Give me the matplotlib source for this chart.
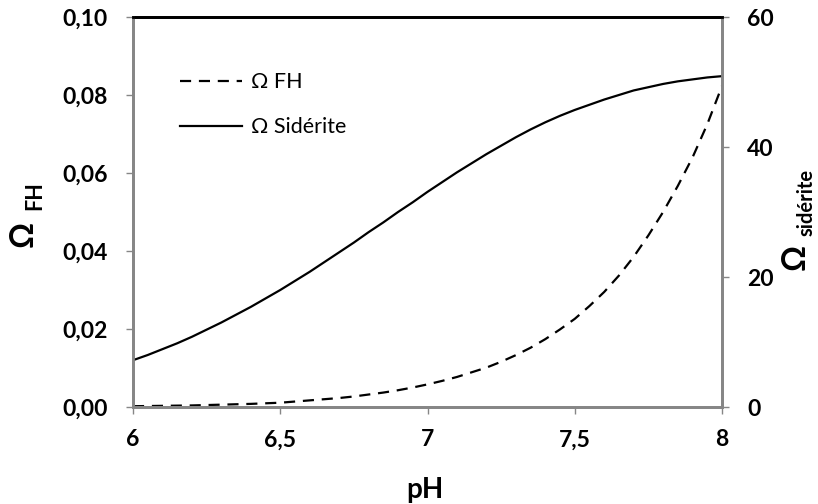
import matplotlib.pyplot as plt

plt.rcParams['font.family'] = ['Lato', 'DejaVu Sans']

# data
ph = [6.00, 6.05, 6.10, 6.15, 6.20, 6.25, 6.30, 6.35, 6.40, 6.45, 6.50,
      6.55, 6.60, 6.65, 6.70, 6.75, 6.80, 6.85, 6.90, 6.95, 7.00,
      7.05, 7.10, 7.15, 7.20, 7.25, 7.30, 7.35, 7.40, 7.45, 7.50,
      7.55, 7.60, 7.65, 7.70, 7.75, 7.80, 7.85, 7.90, 7.95, 8.00]
omega_fh = [0.0002, 0.00025, 0.0003, 0.00035, 0.0004, 0.0005, 0.0006, 0.0007,
            0.0008, 0.00095, 0.0011, 0.0014, 0.0017, 0.0020, 0.0023, 0.0027,
            0.0032, 0.0037, 0.0043, 0.0050, 0.0058, 0.0067, 0.0077, 0.0089,
            0.0101, 0.0116, 0.0133, 0.0152, 0.0174, 0.0199, 0.0226, 0.0259,
            0.0295, 0.0337, 0.0385, 0.0440, 0.0500, 0.0567, 0.0640, 0.0725,
            0.0823]
omega_siderite = [7.2, 8.0, 8.9, 9.8, 10.8, 11.9, 13.0, 14.2, 15.4, 16.7, 18.0,
                  19.4, 20.8, 22.3, 23.8, 25.3, 26.9, 28.4, 30.0, 31.5, 33.1,
                  34.6, 36.1, 37.5, 38.9, 40.2, 41.5, 42.7, 43.8, 44.8, 45.7,
                  46.5, 47.3, 48.0, 48.7, 49.2, 49.7, 50.1, 50.4, 50.7, 50.9]

xticks = [6, 6.5, 7, 7.5, 8]
xtick_labels = ['6', '6,5', '7', '7,5', '8']
yticks_left = [0, 0.02, 0.04, 0.06, 0.08, 0.10]
ytick_labels_left = ['0,00', '0,02', '0,04', '0,06', '0,08', '0,10']
yticks_right = [0, 20, 40, 60]

W, H = 818, 504
fig = plt.figure(figsize=(W/100, H/100), dpi=100)
ax = fig.add_axes([133/W, 1-407/H, (722-133)/W, (407-17)/H])
ax2 = ax.twinx()

l1, = ax.plot(ph, omega_fh, color='black', lw=1.6, dashes=(5, 3.5), label='Ω FH')
l2, = ax2.plot(ph, omega_siderite, color='black', lw=1.6, label='Ω Sidérite')

ax.set_xlim(6, 8)
ax.set_ylim(0, 0.10)
ax2.set_ylim(0, 60)
ax.set_xticks(xticks)
ax.set_xticklabels(xtick_labels)
ax.set_yticks(yticks_left)
ax.set_yticklabels(ytick_labels_left)
ax2.set_yticks(yticks_right)

grey = '#868686'
for a in (ax, ax2):
    for s in ('left', 'right', 'bottom'):
        a.spines[s].set_color(grey)
        a.spines[s].set_linewidth(2)
    a.spines['top'].set_color('black')
    a.spines['top'].set_linewidth(2)
    a.tick_params(axis='both', direction='out', length=5, width=1, color=grey,
                  labelsize=16.5)
    a.tick_params(axis='y', pad=13)
    a.tick_params(axis='x', pad=11)
    for lab in a.get_xticklabels() + a.get_yticklabels():
        lab.set_fontweight('bold')

# axis titles (omega + subscript drawn as separate texts)
fig.text(425/W, 1-490/H, 'pH', fontsize=20, fontweight='bold', ha='center', va='center')
fig.text(23/W, 1-234/H, 'Ω', fontsize=23, fontweight='bold', rotation=90,
         ha='center', va='center')
fig.text(35/W, 1-196/H, 'FH', fontsize=15.5, fontweight='bold', rotation=90,
         ha='center', va='center')
fig.text(795/W, 1-257/H, 'Ω', fontsize=23, fontweight='bold', rotation=90,
         ha='center', va='center')
fig.text(807/W, 1-202/H, 'sidérite', fontsize=14.5, fontweight='bold', rotation=90,
         ha='center', va='center')

ax.legend(handles=[l1, l2], loc='upper left', bbox_to_anchor=(0.065, 0.88),
          frameon=False, fontsize=15.5, handlelength=2.9, handletextpad=0.4,
          labelspacing=1.15, borderaxespad=0)

fig.savefig('out.png', dpi=100)
